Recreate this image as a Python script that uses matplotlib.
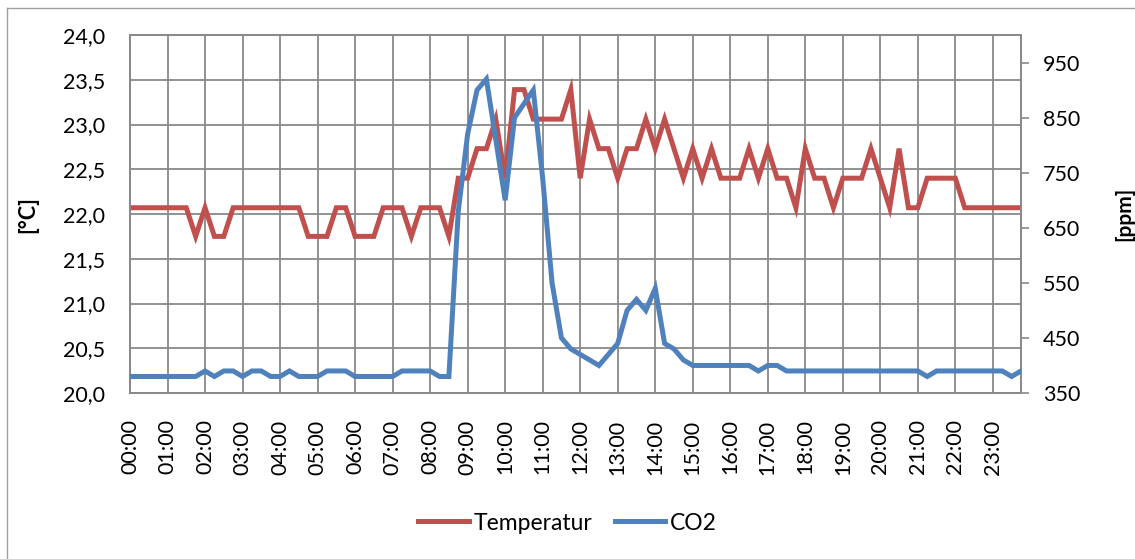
import numpy as np
import matplotlib
matplotlib.use("Agg")
import matplotlib.pyplot as plt
from matplotlib.ticker import FuncFormatter, FixedLocator
from matplotlib.lines import Line2D

# 15-minute readings over one day (00:00 .. 23:45)
temperatur = [22.07] * 7 + [21.75, 22.07, 21.75, 21.75] + [22.07] * 8 + \
    [21.75] * 3 + [22.07] * 2 + [21.75] * 3 + [22.07] * 3 + [21.75] + [22.07] * 3 + [21.75] + \
    [22.40, 22.40, 22.73, 22.73, 23.06, 22.40, 23.39, 23.39, 23.06, 23.06, 23.06, 23.06,
     23.39, 22.40, 23.06, 22.73, 22.73, 22.40, 22.73, 22.73, 23.06, 22.73, 23.06, 22.73,
     22.40, 22.73, 22.40, 22.73, 22.40, 22.40, 22.40, 22.73, 22.40, 22.73, 22.40, 22.40,
     22.07, 22.73, 22.40, 22.40, 22.07, 22.40, 22.40, 22.40, 22.73, 22.40, 22.07, 22.73,
     22.07, 22.07, 22.40, 22.40, 22.40, 22.40] + [22.07] * 7

co2 = [380] * 8 + [390, 380, 390, 390, 380, 390, 390, 380, 380, 390] + [380] * 3 + \
    [390] * 3 + [380] * 5 + [390] * 4 + [380] * 2 + \
    [680, 820, 900, 920, 810, 700, 850, 875, 900, 740, 550, 450, 430, 420, 410, 400,
     420, 440, 500, 520, 500, 540, 440, 430, 410] + \
    [400] * 7 + [390, 400, 400] + [390] * 15 + [380] + [390] * 8 + [380, 390]

hour_labels = ["%02d:00" % h for h in range(24)]

red = "#C0504D"
blue = "#4F81BD"
grid_c = "#898989"
font = "Lato"

fig = plt.figure(figsize=(11.35, 5.59), dpi=100)
W, H = 1135, 559
ax = fig.add_axes([130 / W, (H - 393) / H, 891 / W, 358 / H])
ax2 = ax.twinx()

x = np.arange(len(temperatur))
ax.plot(x, temperatur, color=red, lw=3.6, solid_joinstyle="miter", zorder=3)
ax2.plot(x, co2, color=blue, lw=3.6, solid_joinstyle="miter", zorder=3)

ax.set_xlim(0, len(temperatur) - 1)
ax.set_ylim(20, 24)
ax2.set_ylim(350, 1000)

ax.set_yticks(np.arange(20, 24.01, 0.5))
ax.yaxis.set_major_formatter(FuncFormatter(lambda v, p: ("%.1f" % v).replace(".", ",")))
ax.set_xticks(np.arange(0, len(temperatur), 4))
ax.set_xticklabels(hour_labels, rotation=90, fontfamily=font, fontsize=15.5)
ax2.yaxis.set_major_locator(FixedLocator(np.arange(350, 951, 100)))

ax.grid(True, color=grid_c, lw=1.3)
ax.set_axisbelow(True)

ax.tick_params(axis="y", length=0, pad=18, labelsize=15.5)
ax.tick_params(axis="x", length=0, pad=19)
ax2.tick_params(axis="y", length=6, width=1.2, color=grid_c, direction="out", pad=10, labelsize=15.5)
for lab in ax.get_yticklabels() + ax2.get_yticklabels():
    lab.set_fontfamily(font)

for sp in list(ax.spines.values()) + list(ax2.spines.values()):
    sp.set_color(grid_c)
    sp.set_linewidth(1.3)

fig.text(28 / W, 1 - 215 / H, "[°C]", rotation=90, ha="center", va="center",
         fontsize=15.5, fontweight="bold", fontfamily=font)
fig.text(1124 / W, 1 - 214 / H, "[ppm]", rotation=90, ha="center", va="center",
         fontsize=15, fontweight="bold", fontfamily=font)

handles = [Line2D([], [], color=red, lw=3.6), Line2D([], [], color=blue, lw=3.6)]
fig.legend(handles, ["Temperatur", "CO2"], loc="center", bbox_to_anchor=(0.5, 1 - 523 / H),
           ncol=2, frameon=False, handlelength=2.2, handletextpad=0.2, columnspacing=1.0,
           prop={"family": font, "size": 16.5})

# outer chart border
fig.add_artist(Line2D([7 / W, 7 / W], [0, 1 - 8 / H], color="#a0a0a0", lw=1))
fig.add_artist(Line2D([7 / W, 1], [1 - 8 / H, 1 - 8 / H], color="#a0a0a0", lw=1))

fig.savefig("out.png", dpi=100)
